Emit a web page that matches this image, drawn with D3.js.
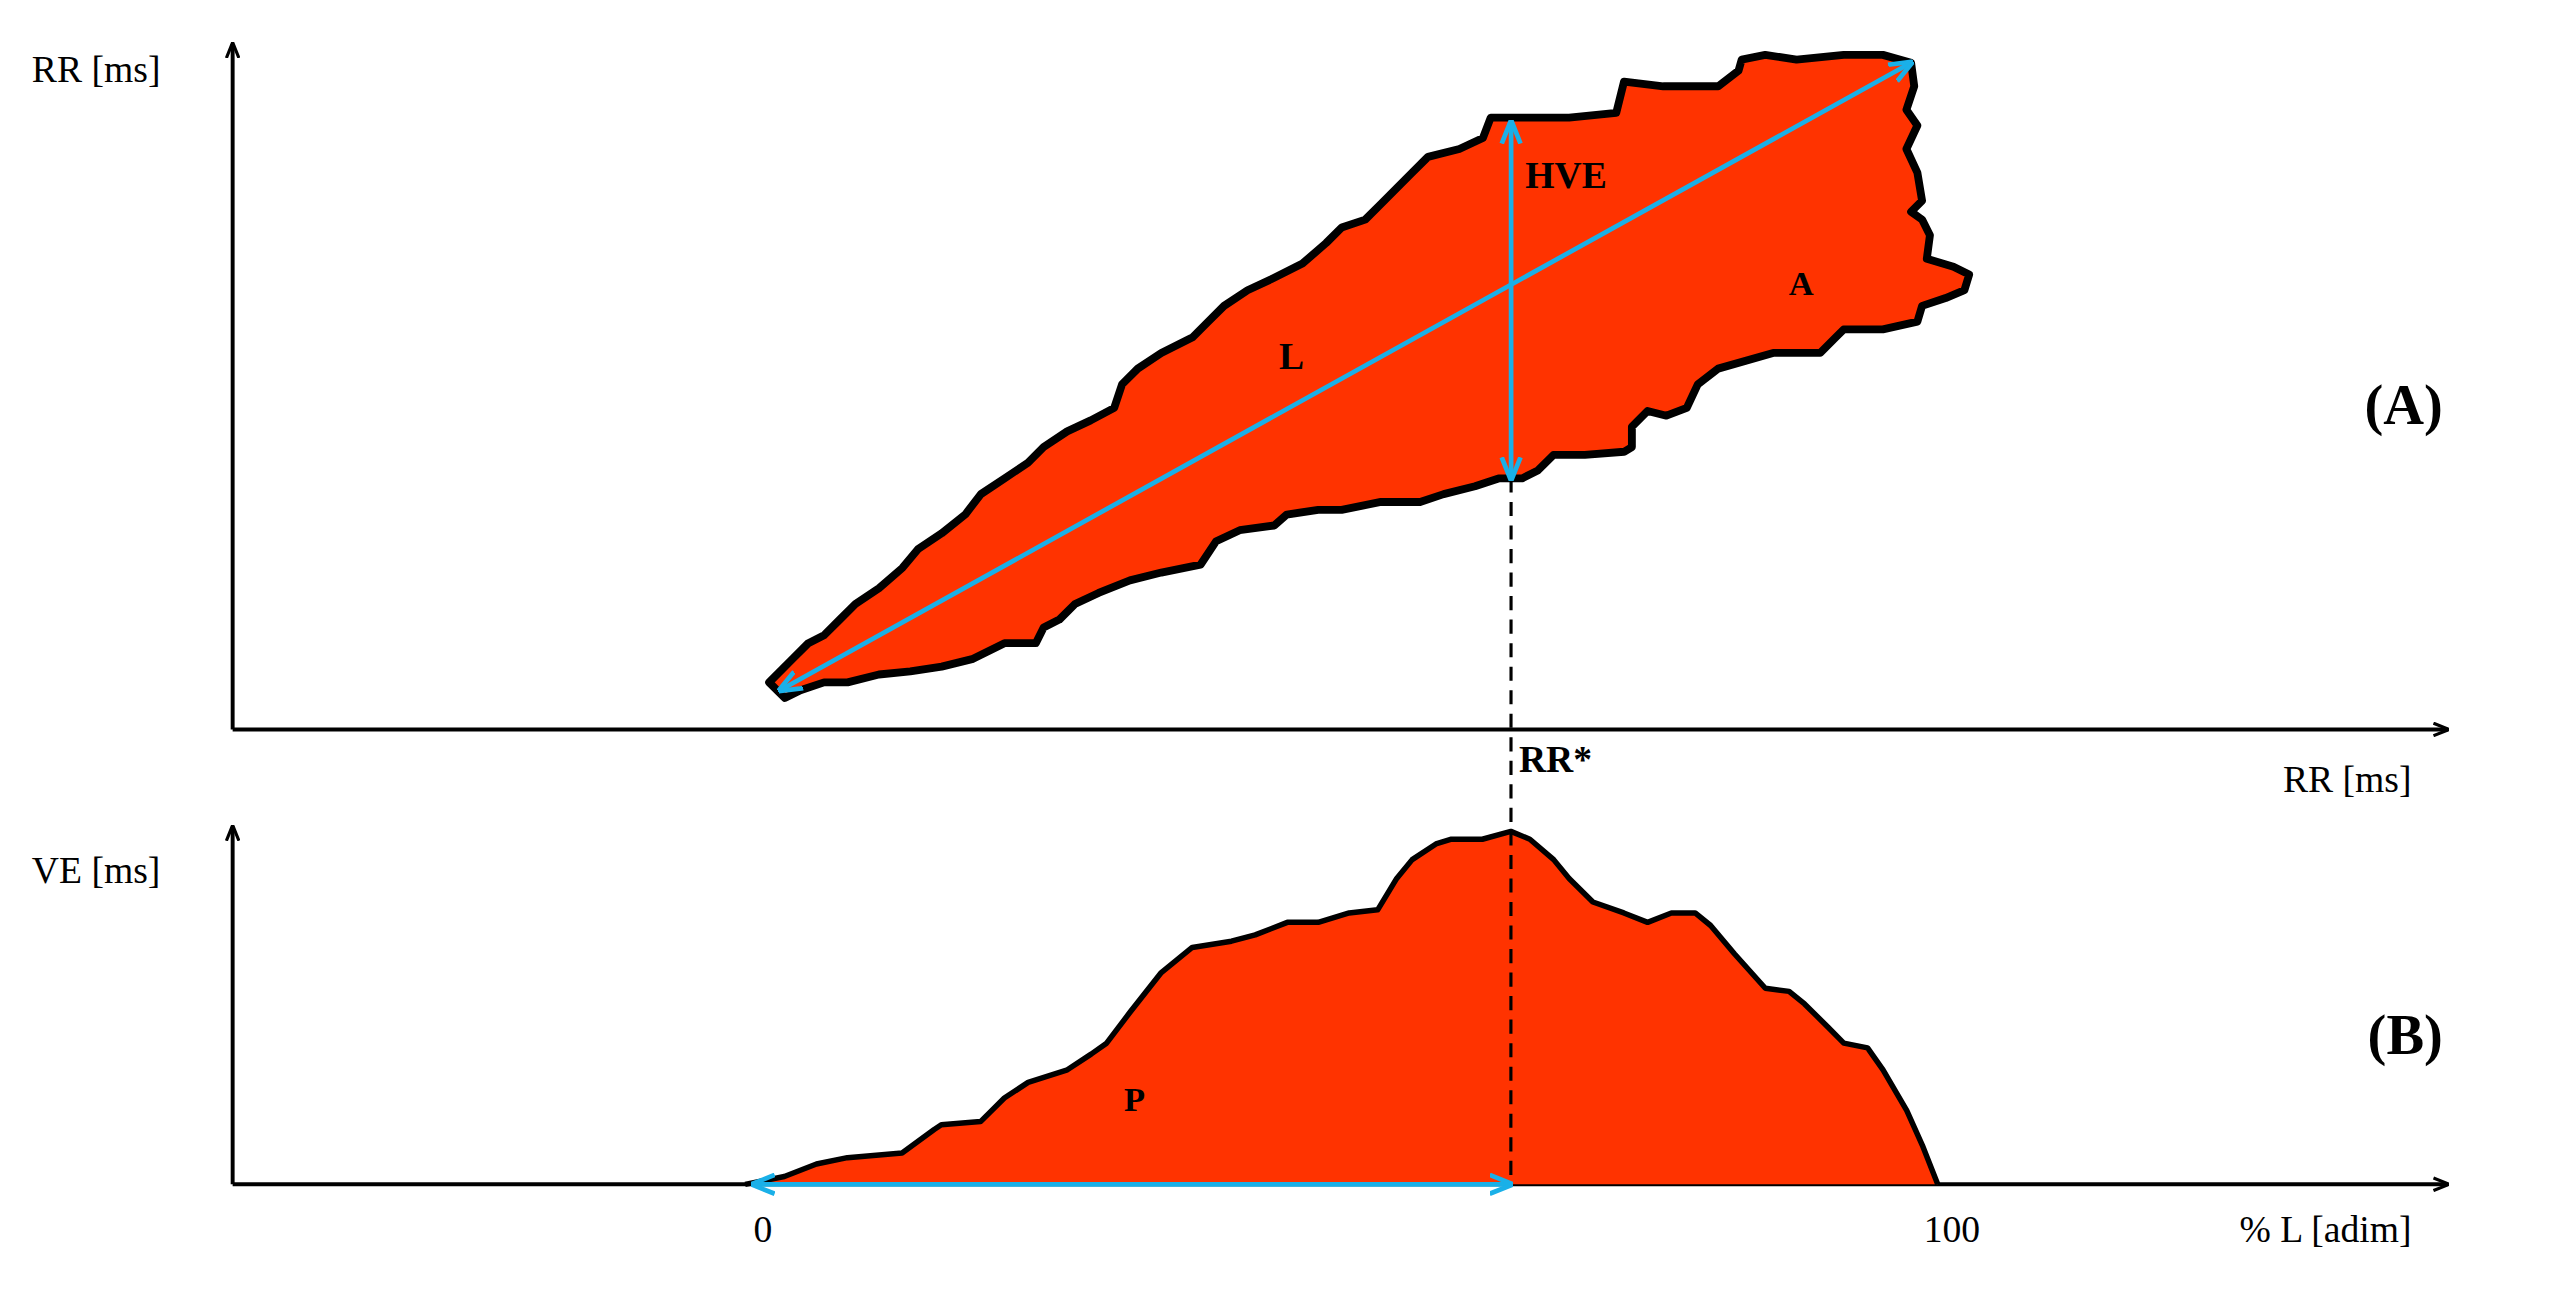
<!DOCTYPE html>
<html><head><meta charset="utf-8">
<script src="https://cdn.jsdelivr.net/npm/d3@7"></script>
<style>body{margin:0;background:#fff}text{font-family:"Liberation Serif","Times New Roman",serif}</style>
</head><body>
<svg id="chart" width="2572" height="1291" viewBox="0 0 1639 823"></svg>
<script>
// Panel A: region of RR(n) vs RR(n+1), arbitrary ms units
const regionA = [[490,565],[505,580],[515,590],[525,595],[535,605],[545,615],[560,625],[575,638],[585,650],[600,660],[615,672],[625,685],[640,695],[655,705],[665,715],[680,725],[695,732],[710,740],[715,755],[725,765],[740,775],[760,785],[770,795],[780,805],[795,815],[810,822],[830,832],[845,845],[855,855],[870,860],[880,870],[890,880],[900,890],[910,900],[930,905],[945,912],[950,925],[975,925],[1000,925],[1030,928],[1035,948],[1060,945],[1095,945],[1108,955],[1110,962],[1125,965],[1145,962],[1175,965],[1200,965],[1218,960],[1220,945],[1215,930],[1222,920],[1215,905],[1222,890],[1225,872],[1218,865],[1225,860],[1230,850],[1228,835],[1245,830],[1255,825],[1252,815],[1240,810],[1225,805],[1222,795],[1200,790],[1175,790],[1170,785],[1160,775],[1130,775],[1095,765],[1082,755],[1075,740],[1062,735],[1050,738],[1040,728],[1040,715],[1035,712],[1010,710],[990,710],[980,700],[970,695],[955,695],[940,690],[920,685],[905,680],[880,680],[855,675],[840,675],[820,672],[812,665],[790,662],[775,655],[765,640],[740,635],[720,630],[700,622],[685,615],[675,605],[665,600],[660,590],[640,590],[620,580],[600,575],[580,572],[560,570],[540,565],[525,565],[510,560],[500,555]];
const lineL = [[497,560],[1218,960]];
const rrStar = 963, hveTop = 922, hveBottom = 695;

// Panel B: VE profile along %L
const pctL = [-0.7,2.6,5.3,7.9,12.5,15.2,15.8,19.1,21.1,23.1,26.4,28.4,29.7,31.7,34.3,36.9,40.2,42.2,44.9,47.5,50.1,52.5,54.1,55.4,57.4,58.7,61.3,63.7,65.3,67.3,68.6,70.6,73.2,75.2,77.2,79.2,80.5,82.5,85.1,87.1,88.4,90.4,91.7,93.7,95,97,98.3,99.6];
const veVals = [0,5,13,17,20,35,38,40,55,65,73,83,90,110,135,151,155,159,167,167,173,175,195,207,217,220,220,225,220,207,195,180,173,167,173,173,165,147,125,123,115,100,90,87,73,47,25,0];
const pPeak = 63.7;
const xTicks = [0, 100];

const svg = d3.select('#chart');
const cyan = '#1ab0e8', red = '#ff3300';

const xA = d3.scaleLinear().domain([148,1560]).range([148,1560]);
const yA = d3.scaleLinear().domain([535,970]).range([465,30]);
const xB = d3.scaleLinear().domain([0,100]).range([480,1238]);
const yB = d3.scaleLinear().domain([0,228]).range([755,527]);

const defs = svg.append('defs');
function marker(id, color, size) {
  defs.append('marker').attr('id', id).attr('viewBox', '0 0 10 10').attr('refX', 9).attr('refY', 5)
    .attr('markerWidth', size).attr('markerHeight', size).attr('orient', 'auto-start-reverse')
    .append('path').attr('d', 'M0,1 L10,5 L0,9').attr('fill', 'none').attr('stroke', color).attr('stroke-width', 2);
}
marker('ax', '#000', 4);
marker('cy', cyan, 5);

// axes
function axes(x0, x1, y0, yTop) {
  svg.append('line').attr('x1', x0).attr('y1', y0).attr('x2', x1).attr('y2', y0)
    .attr('stroke', '#000').attr('stroke-width', 2.5).attr('marker-end', 'url(#ax)');
  svg.append('line').attr('x1', x0).attr('y1', y0).attr('x2', x0).attr('y2', yTop)
    .attr('stroke', '#000').attr('stroke-width', 2.5).attr('marker-end', 'url(#ax)');
}
axes(xA(148), xA(1560), yA(535), yA(970) - 2);
axes(148, 1560, yB(0), yB(228));

// region A
svg.append('path').datum(regionA)
  .attr('d', d3.line().x(d => xA(d[0])).y(d => yA(d[1])).curve(d3.curveLinearClosed))
  .attr('fill', red).attr('stroke', '#000').attr('stroke-width', 5).attr('stroke-linejoin', 'round');

// VE area
const veData = pctL.map((p, i) => [p, veVals[i]]);
svg.append('path').datum(veData)
  .attr('d', d3.area().x(d => xB(d[0])).y0(yB(0)).y1(d => yB(d[1])))
  .attr('fill', red);
svg.append('path').datum(veData)
  .attr('d', d3.line().x(d => xB(d[0])).y(d => yB(d[1])))
  .attr('fill', 'none').attr('stroke', '#000').attr('stroke-width', 3.5).attr('stroke-linejoin', 'round');

// dashed RR* line
svg.append('line').attr('x1', xA(rrStar)).attr('y1', yA(hveBottom)).attr('x2', xB(pPeak)).attr('y2', yB(0))
  .attr('stroke', '#000').attr('stroke-width', 2).attr('stroke-dasharray', '9,6');

// cyan measures
function cyanLine(x1, y1, x2, y2) {
  svg.append('line').attr('x1', x1).attr('y1', y1).attr('x2', x2).attr('y2', y2)
    .attr('stroke', cyan).attr('stroke-width', 3)
    .attr('marker-start', 'url(#cy)').attr('marker-end', 'url(#cy)');
}
cyanLine(xA(lineL[0][0]), yA(lineL[0][1]), xA(lineL[1][0]), yA(lineL[1][1]));
cyanLine(xA(rrStar), yA(hveTop), xA(rrStar), yA(hveBottom));
cyanLine(xB(0), yB(0), xB(pPeak), yB(0));

// texts
function txt(x, y, s, size, bold, anchor) {
  svg.append('text').attr('x', x).attr('y', y).text(s).attr('font-size', size)
    .attr('font-weight', bold ? 'bold' : 'normal').attr('text-anchor', anchor || 'start');
}
txt(20, 52, 'RR [ms]', 24);
txt(1537, 505, 'RR [ms]', 24, false, 'end');
txt(20, 563, 'VE [ms]', 24);
txt(1537, 792, '% L [adim]', 24, false, 'end');
xTicks.forEach(t => txt(xB(t) + 6, 792, t, 24, false, 'middle'));
txt(1557, 270, '(A)', 36, true, 'end');
txt(1557, 672, '(B)', 36, true, 'end');
txt(968, 492, 'RR*', 24, true);
txt(972, 120, 'HVE', 24, true);
txt(823, 235, 'L', 24, true, 'middle');
txt(1148, 188, 'A', 22, true, 'middle');
txt(723, 708, 'P', 22, true, 'middle');
</script>
</body></html>
